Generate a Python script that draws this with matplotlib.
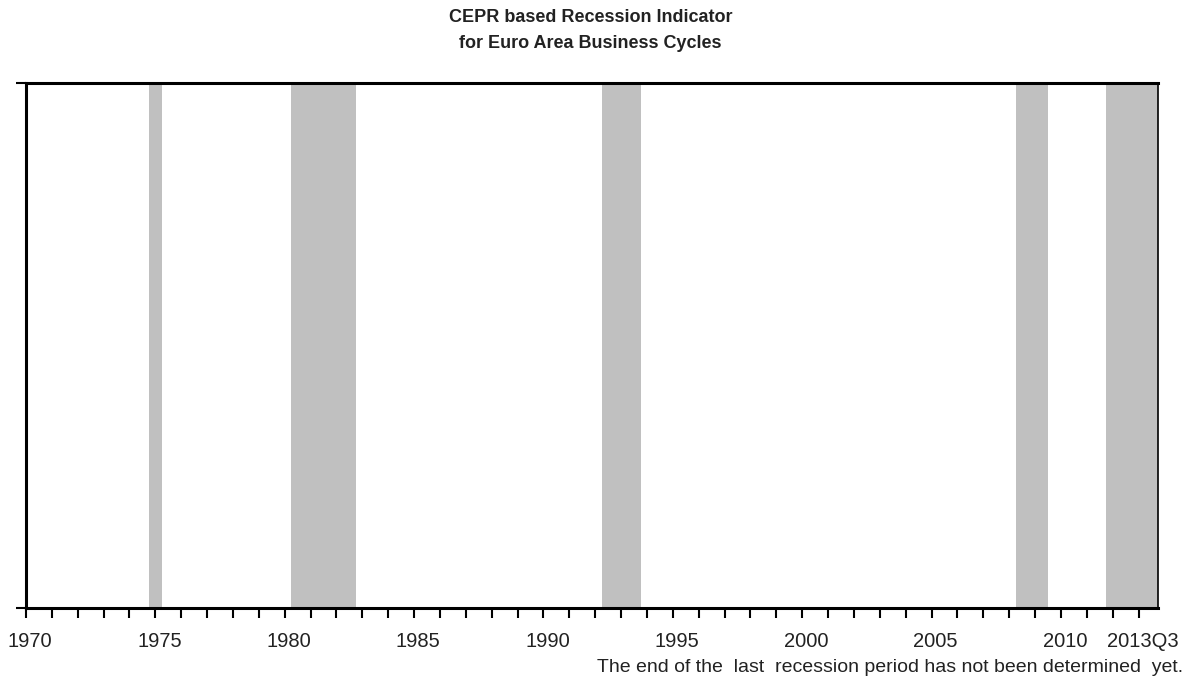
import matplotlib
matplotlib.use("Agg")
import matplotlib.pyplot as plt
import matplotlib.transforms as mtransforms

# Recession periods (start, end) in fractional years
rec_start = [1974.75, 1980.25, 1992.25, 2008.25, 2011.75]
rec_end = [1975.25, 1982.75, 1993.75, 2009.50, 2013.75]

x_start, x_end = 1970.0, 2013.75
tick_years = list(range(1970, 2014))
label_years = [1970, 1975, 1980, 1985, 1990, 1995, 2000, 2005, 2010, 2013]
label_texts = ["1970", "1975", "1980", "1985", "1990", "1995", "2000", "2005", "2010", "2013Q3"]

plt.rcParams['font.family'] = ['Liberation Sans', 'DejaVu Sans']

fig = plt.figure(figsize=(11.88, 6.82), dpi=100)
W, H = 1188, 682
ax = fig.add_axes([26 / W, 1 - 608 / H, (1158 - 26) / W, (608 - 83) / H])

for s, e in zip(rec_start, rec_end):
    ax.axvspan(s, e, ymin=0, ymax=1, color='#c0c0c0', lw=0, zorder=1)

ax.set_xlim(x_start, x_end)
ax.set_ylim(0, 1)

ax.set_xticks(tick_years, minor=False)
ax.set_xticklabels([label_texts[label_years.index(y)] if y in label_years else "" for y in tick_years],
                   fontsize=14.5, color='#222222')
ax.tick_params(axis='x', direction='out', length=7, width=1.5, pad=10, color='black')
offset = mtransforms.ScaledTranslation(4 / 100, 0, fig.dpi_scale_trans)
for lab in ax.get_xticklabels():
    lab.set_transform(lab.get_transform() + offset)
ax.set_yticks([0, 1])
ax.set_yticklabels([])
ax.tick_params(axis='y', direction='out', length=7, width=1.5, color='black')

for side in ['left', 'bottom', 'top']:
    ax.spines[side].set_linewidth(2.2)
    ax.spines[side].set_zorder(3)
ax.spines['right'].set_linewidth(1.2)

fig.text(0.497, 1 - 17 / H, "CEPR based Recession Indicator", ha='center', va='center',
         fontsize=13, fontweight='bold', color='#222222')
fig.text(0.497, 1 - 44 / H, "for Euro Area Business Cycles", ha='center', va='center',
         fontsize=13, fontweight='bold', color='#222222')

fig.text(1183 / W, 1 - 667 / H, "The end of the  last  recession period has not been determined  yet.",
         ha='right', va='center', fontsize=14.0, color='#222222')

fig.savefig("out.png", dpi=100)
